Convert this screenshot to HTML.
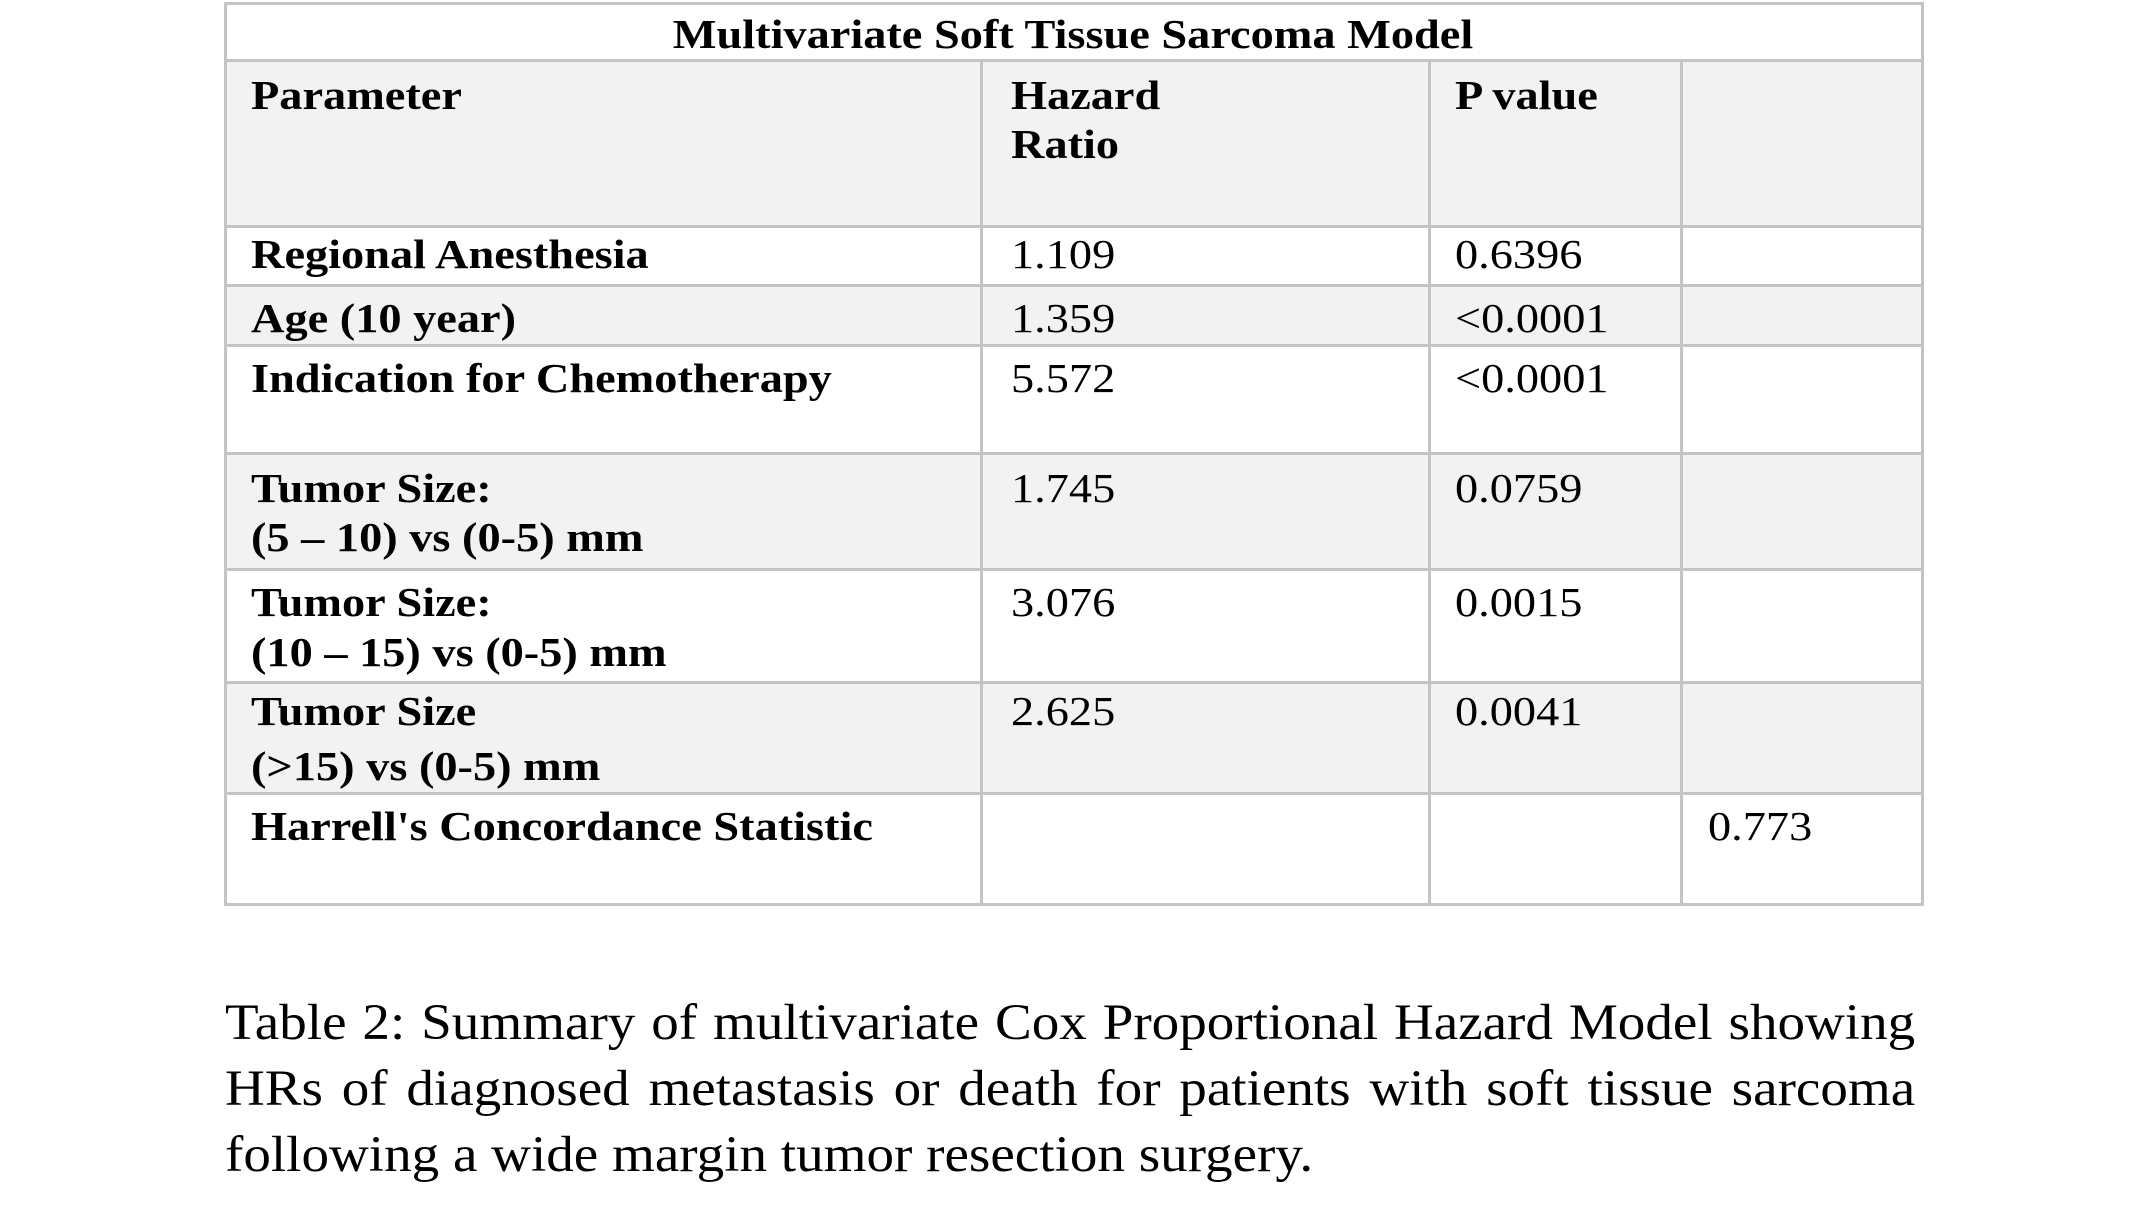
<!DOCTYPE html>
<html><head><meta charset="utf-8"><style>
body{margin:0;width:2149px;height:1223px;background:#fff;position:relative;overflow:hidden;font-family:"Liberation Serif",serif;color:#000}
.r{position:absolute;left:225px;width:1696px}
.h{position:absolute;height:3px;background:#c4c4c4;left:225px;width:1699px}
.v{position:absolute;width:3px;background:#c4c4c4}
.t{position:absolute;font-size:41px;white-space:nowrap;line-height:1;transform:scaleX(1.13);transform-origin:left}
.b{font-weight:bold}
.cap{position:absolute;left:225px;width:1565px;font-size:51px;line-height:66px;top:990px;transform:scaleX(1.08);transform-origin:left}
.cap div{text-align:justify;text-align-last:justify}
.cap div.l{text-align-last:left}
</style></head><body>
<div class="r" style="top:60px;height:166px;background:#f2f2f2"></div>
<div class="r" style="top:285px;height:60px;background:#f2f2f2"></div>
<div class="r" style="top:453px;height:116px;background:#f2f2f2"></div>
<div class="r" style="top:682px;height:111px;background:#f2f2f2"></div>
<div class="h" style="top:2px"></div>
<div class="h" style="top:59px"></div>
<div class="h" style="top:225px"></div>
<div class="h" style="top:284px"></div>
<div class="h" style="top:344px"></div>
<div class="h" style="top:452px"></div>
<div class="h" style="top:568px"></div>
<div class="h" style="top:681px"></div>
<div class="h" style="top:792px"></div>
<div class="h" style="top:903px"></div>
<div class="v" style="left:224px;top:2px;height:904px"></div>
<div class="v" style="left:1921px;top:2px;height:904px"></div>
<div class="v" style="left:980px;top:60px;height:846px"></div>
<div class="v" style="left:1428px;top:60px;height:846px"></div>
<div class="v" style="left:1680px;top:60px;height:846px"></div>
<div class="t b" style="left:225px;width:1696px;text-align:center;top:14px;transform-origin:center">Multivariate Soft Tissue Sarcoma Model</div>
<div class="t b" style="left:251px;top:75px">Parameter</div>
<div class="t b" style="left:1011px;top:75px">Hazard</div>
<div class="t b" style="left:1011px;top:124px">Ratio</div>
<div class="t b" style="left:1455px;top:75px">P value</div>
<div class="t b" style="left:251px;top:234px">Regional Anesthesia</div>
<div class="t" style="left:1011px;top:234px">1.109</div>
<div class="t" style="left:1455px;top:234px">0.6396</div>
<div class="t b" style="left:251px;top:298px">Age (10 year)</div>
<div class="t" style="left:1011px;top:298px">1.359</div>
<div class="t" style="left:1455px;top:298px">&lt;0.0001</div>
<div class="t b" style="left:251px;top:358px">Indication for Chemotherapy</div>
<div class="t" style="left:1011px;top:358px">5.572</div>
<div class="t" style="left:1455px;top:358px">&lt;0.0001</div>
<div class="t b" style="left:251px;top:468px">Tumor Size:</div>
<div class="t b" style="left:251px;top:517px">(5 – 10) vs (0-5) mm</div>
<div class="t" style="left:1011px;top:468px">1.745</div>
<div class="t" style="left:1455px;top:468px">0.0759</div>
<div class="t b" style="left:251px;top:582px">Tumor Size:</div>
<div class="t b" style="left:251px;top:632px">(10 – 15) vs (0-5) mm</div>
<div class="t" style="left:1011px;top:582px">3.076</div>
<div class="t" style="left:1455px;top:582px">0.0015</div>
<div class="t b" style="left:251px;top:691px">Tumor Size</div>
<div class="t b" style="left:251px;top:746px">(&gt;15) vs (0-5) mm</div>
<div class="t" style="left:1011px;top:691px">2.625</div>
<div class="t" style="left:1455px;top:691px">0.0041</div>
<div class="t b" style="left:251px;top:806px">Harrell's Concordance Statistic</div>
<div class="t" style="left:1708px;top:806px">0.773</div>
<div class="cap">
<div>Table 2: Summary of multivariate Cox Proportional Hazard Model showing</div>
<div>HRs of diagnosed metastasis or death for patients with soft tissue sarcoma</div>
<div class="l">following a wide margin tumor resection surgery.</div>
</div>
</body></html>
